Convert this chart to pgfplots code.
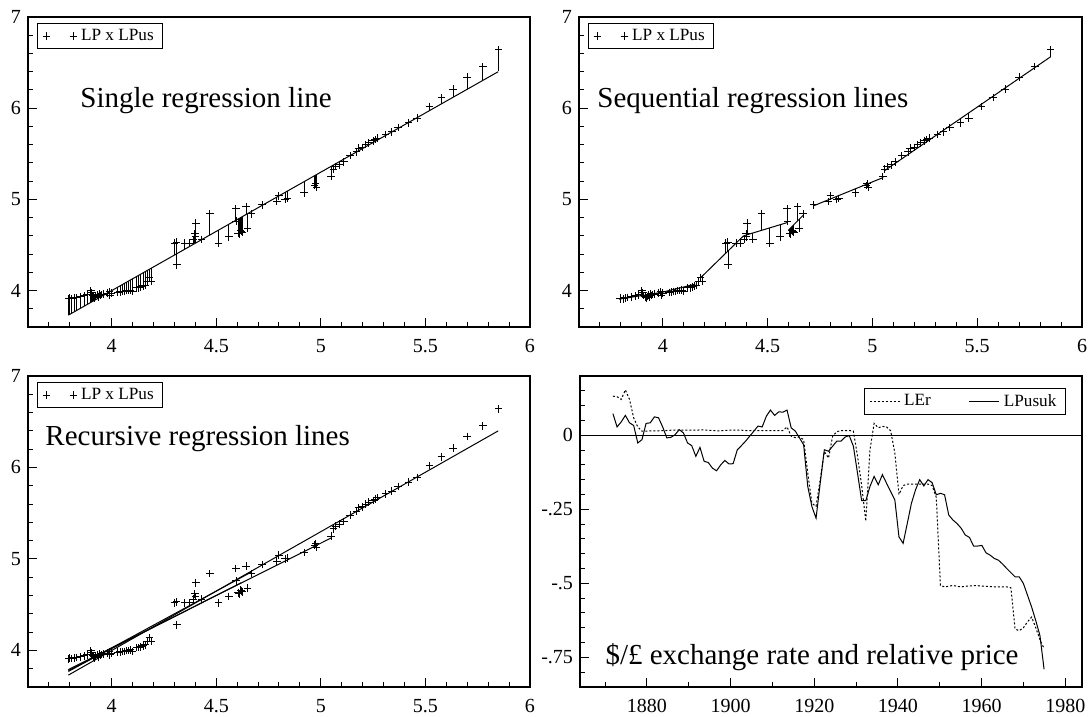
\documentclass[border=0pt]{standalone}
\usepackage{fontspec}
\setmainfont{Liberation Serif}
\usepackage{pgfplots}
\pgfplotsset{compat=1.18}
\usepackage{pgfplotstable}

\pgfplotstableread{
x y
3.796 3.908
3.800 3.915
3.810 3.910
3.820 3.920
3.833 3.922
3.850 3.930
3.870 3.940
3.883 3.952
3.900 3.996
3.905 3.975
3.910 3.945
3.915 3.930
3.920 3.920
3.925 3.935
3.930 3.950
3.935 3.930
3.940 3.960
3.945 3.945
3.950 3.955
3.960 3.960
3.980 3.970
3.990 3.985
3.992 3.950
4.000 3.970
4.030 3.980
4.040 3.985
4.050 3.990
4.060 3.990
4.070 4.000
4.080 4.000
4.090 4.005
4.100 3.990
4.120 4.030
4.130 4.030
4.140 4.040
4.150 4.050
4.160 4.060
4.170 4.100
4.180 4.140
4.190 4.100
4.300 4.520
4.310 4.530
4.312 4.280
4.350 4.520
4.370 4.520
4.390 4.560
4.398 4.620
4.400 4.590
4.402 4.740
4.430 4.560
4.470 4.840
4.510 4.520
4.560 4.590
4.593 4.895
4.595 4.760
4.605 4.630
4.610 4.620
4.615 4.660
4.620 4.650
4.625 4.640
4.643 4.920
4.650 4.680
4.669 4.840
4.720 4.940
4.790 4.975
4.800 5.040
4.830 5.000
4.840 5.010
4.920 5.070
4.970 5.150
4.975 5.170
4.980 5.130
5.050 5.250
5.060 5.330
5.070 5.360
5.090 5.380
5.110 5.410
5.140 5.480
5.170 5.520
5.180 5.560
5.200 5.570
5.215 5.600
5.230 5.620
5.250 5.640
5.260 5.655
5.270 5.670
5.310 5.710
5.340 5.740
5.370 5.790
5.420 5.840
5.460 5.890
5.520 6.020
5.576 6.115
5.633 6.210
5.700 6.340
5.775 6.455
5.850 6.640
}\pts

\pgfplotstableread{
year v
1871 0.073
1872 0.028
1873 0.045
1874 0.067
1875 0.042
1876 0.033
1877 -0.026
1878 -0.015
1879 0.040
1880 0.042
1881 0.062
1882 0.059
1883 0.028
1884 -0.009
1885 -0.007
1886 0.002
1887 0.019
1888 0.008
1889 -0.026
1890 -0.035
1891 -0.071
1892 -0.041
1893 -0.088
1894 -0.092
1895 -0.111
1896 -0.120
1897 -0.100
1898 -0.085
1899 -0.097
1900 -0.096
1901 -0.049
1902 -0.035
1903 -0.020
1904 -0.003
1905 0.014
1906 0.031
1907 0.028
1908 0.064
1909 0.085
1910 0.067
1911 0.079
1912 0.078
1913 0.085
1914 0.025
1915 0.014
1916 -0.009
1917 -0.032
1918 -0.173
1919 -0.241
1920 -0.280
1921 -0.162
1922 -0.049
1923 -0.054
1924 -0.037
1925 -0.020
1926 -0.020
1927 -0.006
1928 -0.001
1929 -0.037
1930 -0.128
1931 -0.221
1932 -0.221
1933 -0.173
1934 -0.139
1935 -0.167
1936 -0.133
1937 -0.162
1938 -0.190
1939 -0.218
1940 -0.343
1941 -0.365
1942 -0.298
1943 -0.230
1944 -0.184
1945 -0.150
1946 -0.171
1947 -0.150
1948 -0.160
1949 -0.201
1950 -0.196
1951 -0.201
1952 -0.269
1953 -0.286
1954 -0.298
1955 -0.314
1956 -0.337
1957 -0.345
1958 -0.374
1959 -0.374
1960 -0.372
1961 -0.397
1962 -0.405
1963 -0.416
1964 -0.422
1965 -0.435
1966 -0.450
1967 -0.464
1968 -0.478
1969 -0.478
1970 -0.500
1971 -0.540
1972 -0.580
1973 -0.626
1974 -0.676
1975 -0.790
}\lpusuk

\pgfplotstableread{
year v
1871 0.132
1872 0.130
1873 0.121
1874 0.153
1875 0.121
1876 0.059
1877 0.028
1878 0.014
1879 0.014
1880 0.015
1881 0.015
1882 0.015
1883 0.016
1884 0.016
1885 0.017
1886 0.017
1887 0.017
1888 0.017
1889 0.017
1890 0.017
1891 0.017
1892 0.018
1893 0.018
1894 0.017
1895 0.016
1896 0.015
1897 0.015
1898 0.016
1899 0.017
1900 0.017
1901 0.017
1902 0.017
1903 0.016
1904 0.016
1905 0.016
1906 0.016
1907 0.016
1908 0.016
1909 0.016
1910 0.016
1911 0.016
1912 0.016
1913 0.028
1914 -0.003
1915 -0.008
1916 -0.006
1917 -0.015
1918 -0.128
1919 -0.230
1920 -0.240
1921 -0.150
1922 -0.055
1923 -0.077
1924 -0.003
1925 0.012
1926 0.016
1927 0.016
1928 0.016
1929 0.014
1930 -0.070
1931 -0.170
1932 -0.290
1933 -0.050
1934 0.040
1935 0.025
1936 0.030
1937 0.028
1938 0.015
1939 -0.060
1940 -0.200
1941 -0.170
1942 -0.165
1943 -0.165
1944 -0.165
1945 -0.165
1946 -0.165
1947 -0.165
1948 -0.170
1949 -0.210
1950 -0.507
1951 -0.512
1952 -0.510
1953 -0.507
1954 -0.510
1955 -0.512
1956 -0.510
1957 -0.509
1958 -0.508
1959 -0.508
1960 -0.509
1961 -0.510
1962 -0.511
1963 -0.512
1964 -0.512
1965 -0.512
1966 -0.512
1967 -0.515
1968 -0.654
1969 -0.660
1970 -0.650
1971 -0.630
1972 -0.614
1973 -0.650
1974 -0.690
1975 -0.720
}\ler

\tikzset{ann/.style={anchor=west, inner sep=0pt, font=\fontsize{14.5}{17}\selectfont}}
\pgfplotsset{
  base/.style={
    scale only axis, width=251pt, height=155pt,
    axis line style={line width=0.6pt},
    tick align=inside, tick pos=left,
    major tick length=4.5pt, minor tick length=2.5pt,
    every tick/.style={black, line width=0.5pt},
    every minor tick/.style={black, line width=0.5pt},
    tick label style={font=\fontsize{10}{12}\selectfont},
    xticklabel style={yshift=-2.7pt},
    /pgf/number format/assume math mode=true,
    /pgf/number format/1000 sep={},
    legend cell align=left,
    clip=false,
  },
  scat/.style={base,
    xmin=3.6, xmax=6, ymin=3.6, ymax=7,
    xtick={4,4.5,5,5.5,6}, ytick={4,5,6,7},
    minor xtick={3.7,3.8,3.9,4.1,4.2,4.3,4.4,4.6,4.7,4.8,4.9,5.1,5.2,5.3,5.4,5.6,5.7,5.8,5.9},
    minor ytick={3.8,4.2,4.4,4.6,4.8,5.2,5.4,5.6,5.8,6.2,6.4,6.6,6.8},
    legend style={at={(axis description cs:0.018,0.981)}, anchor=north west,
      draw=black, line width=0.5pt, inner xsep=2.5pt, inner ysep=0.8pt,
      font=\fontsize{8.6}{10}\selectfont},
    legend image code/.code={\draw[black, line width=0.5pt] plot[only marks, mark=+, mark size=1.9pt] coordinates {(0pt,0pt) (13.5pt,0pt)};},
  },
  pts/.style={only marks, mark=+, black, mark size=1.9pt, mark options={line width=0.5pt}},
  ln/.style={black, line width=0.5pt, forget plot, no marks},
}

% residual bars to a segment: #1,#2 domain; (#3,#4)-(#5,#6) segment
\newcommand{\res}[6]{%
  \addplot[ln, restrict x to domain=#1:#2,
    quiver={u=0, v={#4+(#6-#4)/(#5-#3)*(\thisrow{x}-#3)-\thisrow{y}}}] table {\pts};
  \addplot[ln] coordinates {(#3,#4) (#5,#6)};
}

\begin{document}
\begin{tikzpicture}
\useasboundingbox (0,0) rectangle (544pt,-358.5pt);

% ---------- top left
\begin{axis}[scat, at={(14pt,-8.5pt)}, anchor=north west]
\res{3.5}{6.5}{3.793}{3.73}{5.848}{6.40}
\addplot[pts] table {\pts};
\addlegendentry{LP x LPus}
\node[ann] at (axis description cs:0.1036,0.732) {Single regression line};
\end{axis}

% ---------- top right
\begin{axis}[scat, at={(289.5pt,-8.5pt)}, anchor=north west, width=251.5pt]
\res{3.5}{3.996}{3.791}{3.905}{3.995}{3.98}
\res{3.996}{4.165}{3.995}{3.98}{4.155}{4.07}
\res{4.165}{4.385}{4.178}{4.135}{4.385}{4.60}
\res{4.385}{4.6}{4.385}{4.60}{4.593}{4.745}
\res{4.6}{4.7}{4.60}{4.665}{4.672}{4.83}
\res{4.7}{5.055}{4.72}{4.93}{5.052}{5.24}
\res{5.055}{6.5}{5.058}{5.315}{5.851}{6.565}
\addplot[pts] table {\pts};
\addlegendentry{LP x LPus}
\node[ann] at (axis description cs:0.0358,0.732) {Sequential regression lines};
\end{axis}

% ---------- bottom left
\begin{axis}[scat, at={(14pt,-188pt)}, anchor=north west, height=155.5pt]
\addplot[ln] coordinates {(3.793,3.73) (5.848,6.40)};
\addplot[ln] coordinates {(3.793,3.79) (5.05,5.23)};
\addplot[ln] coordinates {(3.793,3.77) (4.67,4.86)};
\addplot[ln] coordinates {(3.793,3.78) (4.62,4.74)};
\addplot[pts] table {\pts};
\addlegendentry{LP x LPus}
\node[ann] at (axis description cs:0.034,0.80) {Recursive regression lines};
\end{axis}

% ---------- bottom right
\begin{axis}[base, at={(290pt,-188pt)}, anchor=north west, height=155.5pt,
  xmin=1864, xmax=1984, ymin=-0.85, ymax=0.2,
  xtick={1880,1900,1920,1940,1960,1980},
  minor xtick={1870,1890,1910,1930,1950,1970},
  ytick={-0.75,-0.5,-0.25,0}, yticklabels={-.75,-.5,-.25,0},
  minor ytick={-0.8,-0.7,-0.65,-0.6,-0.55,-0.45,-0.4,-0.35,-0.3,-0.2,-0.15,-0.1,-0.05,0.05,0.1,0.15},
  legend columns=2,
  legend style={at={(axis description cs:0.968,0.961)}, anchor=north east,
    draw=black, line width=0.5pt, inner xsep=2.5pt, inner ysep=0.8pt,
    font=\fontsize{8.6}{10}\selectfont,
    /tikz/every even column/.append style={column sep=17pt}},
  legend image code/.code={\draw[#1] (0pt,0pt) -- (15pt,0pt);},
]
\addplot[ln] coordinates {(1864,0) (1984,0)};
\addplot[black, line width=0.5pt, dash pattern=on 1pt off 1pt, no marks]
  table[x expr={1871.87+0.991*(\thisrow{year}-1871)}, y=v] {\ler};
\addlegendentry{LEr}
\addplot[black, line width=0.5pt, no marks]
  table[x expr={1871.87+0.991*(\thisrow{year}-1871)}, y=v] {\lpusuk};
\addlegendentry{LPusuk}
\node[ann] at (axis description cs:0.05,0.0965) {\$/£ exchange rate and relative price};
\end{axis}
\end{tikzpicture}
\end{document}
